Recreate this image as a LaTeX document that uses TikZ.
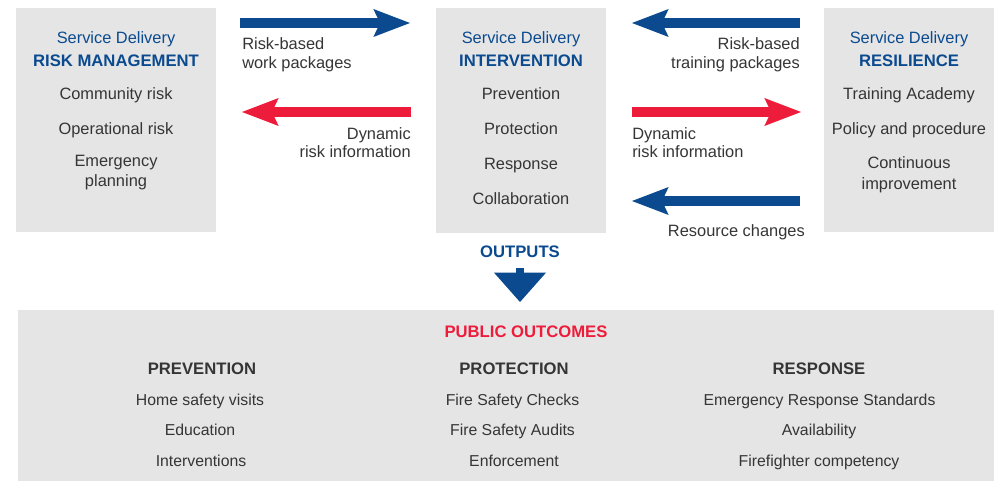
\documentclass[tikz,border=0pt]{standalone}
\usepackage{fontspec}
\setmainfont{Liberation Sans}
\usetikzlibrary{arrows.meta}
\definecolor{sdblue}{HTML}{0B4A8F}
\definecolor{sdred}{HTML}{EE1C3B}
\definecolor{boxgray}{HTML}{E5E5E5}
\definecolor{txtgray}{HTML}{353535}

\begin{document}
\begin{tikzpicture}[x=0.75pt,y=-0.75pt,
		every node/.style={font=\fontsize{12.3}{14}\selectfont,text=txtgray,inner sep=0pt},
		panel/.style={fill=boxgray,anchor=north west,inner sep=0pt},
		item/.style={anchor=base},
		outitem/.style={anchor=base,font=\fontsize{11.85}{14}\selectfont},
		head/.style={anchor=base,font=\fontsize{12.5}{14}\selectfont\bfseries},
		flow/.style={line width=7.5pt,-{Stealth[length=27.5pt,width=21pt,inset=5pt,line width=0pt]}},
	]
		\useasboundingbox (0,0) rectangle (994,481);
		%\draw[help lines] (0,0) grid[step=50] (994,481);

		% the three service delivery boxes
		\node[panel,minimum width=150pt,minimum height=168pt] (risk) at (16,8) {};
		\node[panel,minimum width=127.5pt,minimum height=168.75pt] (interv) at (436,8) {};
		\node[panel,minimum width=127.5pt,minimum height=168pt] (resil) at (824,8) {};
		\node[panel,minimum width=732pt,minimum height=128.25pt] (public) at (18,310) {};

		\node[item,text=sdblue] (risksd) at (116,43.3) {Service Delivery};
		\node[head,text=sdblue] (risktitle) at (116,66.7) {RISK MANAGEMENT};
		\node[item] (community) at (116,100) {Community risk};
		\node[item] (operational) at (116,135) {Operational risk};
		\node[item] (emergency) at (116,166.7) {Emergency};
		\node[item] (planning) at (116,186.7) {planning};

		\node[item,text=sdblue] (intervsd) at (521,43.3) {Service Delivery};
		\node[head,text=sdblue] (intervtitle) at (521,66.7) {INTERVENTION};
		\node[item] (prevention) at (521,100) {Prevention};
		\node[item] (protection) at (521,135) {Protection};
		\node[item] (response) at (521,169) {Response};
		\node[item] (collab) at (521,204) {Collaboration};

		\node[item,text=sdblue] (resilsd) at (909,43.3) {Service Delivery};
		\node[head,text=sdblue] (resiltitle) at (909,66.3) {RESILIENCE};
		\node[item] (academy) at (909,100) {Training Academy};
		\node[item] (policy) at (909,134.3) {Policy and procedure};
		\node[item] (continuous) at (909,168.3) {Continuous};
		\node[item] (improvement) at (909,189.3) {improvement};

		% arrows between the boxes
		\coordinate (riskout) at (240,23);
		\coordinate (intervin) at (410,23);
		\coordinate (intervout) at (411,112);
		\coordinate (riskin) at (242,112);
		\draw[flow,sdblue] (riskout)--(intervin);
		\draw[flow,sdred] (intervout)--(riskin);
		\node[anchor=base west] (workpk1) at (242,50) {Risk-based};
		\node[anchor=base west] (workpk2) at (242,68.3) {work packages};
		\node[anchor=base east] (dynleft1) at (411,139.3) {Dynamic};
		\node[anchor=base east] (dynleft2) at (411,157.7) {risk information};

		\coordinate (resilout) at (800,23);
		\coordinate (intervinr) at (632,23);
		\coordinate (intervoutr) at (632,112);
		\coordinate (resilin) at (801,112);
		\coordinate (resilout2) at (800,201);
		\coordinate (intervin2) at (632,201);
		\draw[flow,sdblue] (resilout)--(intervinr);
		\draw[flow,sdred] (intervoutr)--(resilin);
		\draw[flow,sdblue] (resilout2)--(intervin2);
		\node[anchor=base east] (trainpk1) at (800,50) {Risk-based};
		\node[anchor=base east] (trainpk2) at (800,69) {training packages};
		\node[anchor=base west] (dynright1) at (632,139) {Dynamic};
		\node[anchor=base west] (dynright2) at (632,157) {risk information};
		\node[anchor=base east] (resource) at (805,236) {Resource changes};

		% outputs
		\node[head,text=sdblue] (outputs) at (520,257.7) {OUTPUTS};
		\coordinate (outtop) at (520,268);
		\coordinate (outtip) at (520,302);
		\draw[sdblue,line width=6pt,-{Triangle[length=22pt,width=39pt,line width=0pt]}] (outtop)--(outtip);

		\node[head,text=sdred] (pubtitle) at (526,337.3) {PUBLIC OUTCOMES};

		\node[head] (prevhead) at (202,374) {PREVENTION};
		\node[outitem] (homevisits) at (200,405.7) {Home safety visits};
		\node[outitem] (education) at (200,435.7) {Education};
		\node[outitem] (interventions) at (201,466) {Interventions};

		\node[head] (prothead) at (514,374) {PROTECTION};
		\node[outitem] (checks) at (512.5,405.7) {Fire Safety Checks};
		\node[outitem] (audits) at (512.5,435.7) {Fire Safety Audits};
		\node[outitem] (enforcement) at (514,466) {Enforcement};

		\node[head] (resphead) at (819,374) {RESPONSE};
		\node[outitem] (standards) at (819.5,405.7) {Emergency Response Standards};
		\node[outitem] (availability) at (819,435.7) {Availability};
		\node[outitem] (competency) at (819,466) {Firefighter competency};
	\end{tikzpicture}
\end{document}
